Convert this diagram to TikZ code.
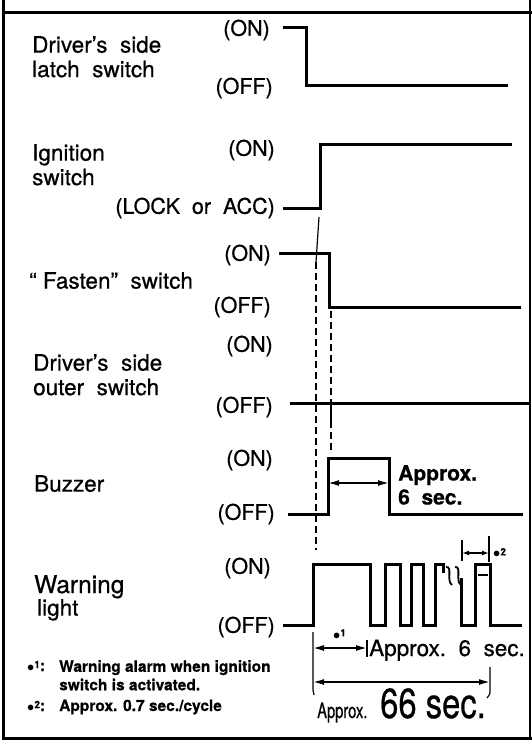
\documentclass[tikz,border=0pt]{standalone}
\usepackage{fontspec}
\setmainfont{TeX Gyre Heros}[FakeBold=0.6]
\usepackage{graphicx}
\usetikzlibrary{arrows.meta,positioning}
\newcommand{\starmark}[1]{$\bullet$\raisebox{0.35ex}{\fontsize{10}{10}\selectfont #1}}
\tikzset{
  frame/.style={line width=3pt},
  signal/.style={line width=3pt, line join=miter},
  guide/.style={line width=2.2pt, dash pattern=on 7pt off 4pt},
  hair/.style={line width=1.2pt},
  dimarrow/.style={{Latex[length=11pt,width=6pt]}-{Latex[length=11pt,width=6pt]}, line width=1.6pt},
  rowname/.style={font=\fontsize{22.5}{24.5}\selectfont, align=left, anchor=north west, inner sep=0pt},
  level/.style={font=\fontsize{21.5}{24}\selectfont, anchor=east, inner sep=0pt},
  note/.style={font=\bfseries\fontsize{15.5}{18.5}\selectfont, inner sep=0pt, align=left}
}

\begin{document}
\begin{tikzpicture}[x=1pt,y=-1pt]
  \useasboundingbox (0,0) rectangle (532,741);
  % frame
  \draw[frame] (3,0) -- (3,738) -- (532,738);
  \draw[frame] (3,13) -- (532,13);
  \draw[line width=2pt] (529.5,0) -- (529.5,738);

  % driver's side latch switch
  \node[rowname] (latch) at (32,36) {Driver’s\ \ side\\latch\ \ switch};
  \node[level] (latchon) at (270,30) {(ON)};
  \node[level] (latchoff) at (273,88) {(OFF)};
  \draw[signal] (283,28) -- (306,28) -- (306,86) -- (508,86);

  % ignition switch
  \node[rowname] (ign) at (32,144) {Ignition\\switch};
  \node[level] (ignon) at (275,150) {(ON)};
  \node[level] (ignoff) at (275,208) {(LOCK\ \ or\ \ ACC)};
  \draw[signal] (283,208) -- (320,208) -- (320,144) -- (512,144);

  % fasten switch
  \node[rowname] (fasten) at (29,272) {“ Fasten”\ \ switch};
  \node[level] (fastenon) at (271,255) {(ON)};
  \node[level] (fastenoff) at (271,307) {(OFF)};
  \draw[signal] (279,253) -- (329,253) -- (329,307) -- (521,307);

  % driver's side outer switch
  \node[rowname] (outer) at (33,354) {Driver’s\ \ side\\outer\ \ switch};
  \node[level] (outeron) at (273,346) {(ON)};
  \node[level] (outeroff) at (273,407) {(OFF)};
  \draw[signal] (290,403) -- (531,403);

  % buzzer
  \node[rowname] (buzz) at (34,475) {Buzzer};
  \node[level] (buzzon) at (273,460) {(ON)};
  \node[level] (buzzoff) at (275,514) {(OFF)};
  \draw[signal] (288,514) -- (328,514) -- (328,458) -- (389,458) -- (389,514) -- (523,514);
  \coordinate (bz0) at (328,483);
  \coordinate (bz1) at (389,483);
  \draw[dimarrow] (bz0) -- (bz1);
  \node[anchor=north west, align=left, inner sep=0pt, font=\bfseries\fontsize{21}{24}\selectfont] (buzztime) at (398,465) {Approx.\\6\ \ sec.};

  % warning light
  \node[rowname, font=\fontsize{24.5}{24}\selectfont] (warn) at (34,575) {Warning};
  \node[rowname, font=\fontsize{22.5}{24}\selectfont] (light) at (37,599) {light};
  \node[level] (warnon) at (271,568) {(ON)};
  \node[level] (warnoff) at (275,627) {(OFF)};
  \draw[signal] (283,625) -- (313,625) -- (313,564) -- (370,564) -- (370,625) -- (385,625) -- (385,564) -- (400,564) -- (400,625)
    -- (411,625) -- (411,564) -- (423,564) -- (423,625) -- (435,625) -- (435,564) -- (443,564) -- (443,573);
  \draw[signal] (461,578) -- (461,625) -- (475,625) -- (475,564) -- (490,564) -- (490,625) -- (522,625);
  \draw[line width=1.8pt] (446,567) .. controls (453,566) and (446,581) .. (452,585);
  \draw[line width=1.8pt] (455,567) .. controls (462,566) and (455,581) .. (461,585);
  \draw[hair] (478,575) -- (488,575);

  % guide lines
  \draw[hair] (319,217) -- (316,262);
  \draw[guide] (316,262) -- (316,550);
  \draw[guide] (331,311) -- (331,452);
  \draw[hair] (331,405) -- (331,424);

  % *2 cycle
  \draw[hair] (462,540) -- (462,561);
  \draw[hair] (489,536) -- (489,562);
  \coordinate (cy0) at (462,553);
  \coordinate (cy1) at (489,553);
  \draw[{Latex[length=7pt,width=5pt]}-{Latex[length=7pt,width=5pt]}, line width=1.5pt] (cy0) -- (cy1);
  \node[note, anchor=west, font=\bfseries\fontsize{14}{14}\selectfont] (star2mark) at (493,553) {\starmark{2}};

  % *1 and 66 sec.
  \draw[hair] (313,632) -- (313,690) -- (314,695);
  \draw[hair] (367,640) -- (367,657);
  \coordinate (w0) at (313,648);
  \coordinate (w1) at (367,648);
  \draw[dimarrow] (w0) -- (w1);
  \node[note, anchor=base west, font=\bfseries\fontsize{14}{14}\selectfont] (star1mark) at (333,639) {\starmark{1}};
  \node[anchor=base west, inner sep=0pt, font=\fontsize{22.5}{24}\selectfont] (sixsec) at (369,656) {Approx.\ \ 6\ \ sec.};
  \coordinate (t0) at (313,682);
  \coordinate (t1) at (490,682);
  \draw[dimarrow] (t0) -- (t1);
  \draw[hair] (490,667) -- (490,690) .. controls (490,694) .. (487,698);
  \node[anchor=base west, inner sep=0pt, font=\fontsize{21}{21}\selectfont] (approx) at (317,718) {\scalebox{0.7}[1]{Approx.}};
  \node[anchor=base west, inner sep=0pt, font=\fontsize{42}{42}\selectfont] (sixtysix) at (380,718) {\scalebox{0.78}[1]{66 sec.}};

  % notes
  \node[note, anchor=base west] (star1) at (27,671) {\starmark{1}:};
  \node[note, anchor=north west] (note1) at (59,660) {Warning alarm when ignition\\switch is activated.};
  \node[note, anchor=base west] (star2) at (27,711) {\starmark{2}:};
  \node[note, anchor=base west] (note2) at (59,711) {Approx. 0.7 sec./cycle};
\end{tikzpicture}
\end{document}
